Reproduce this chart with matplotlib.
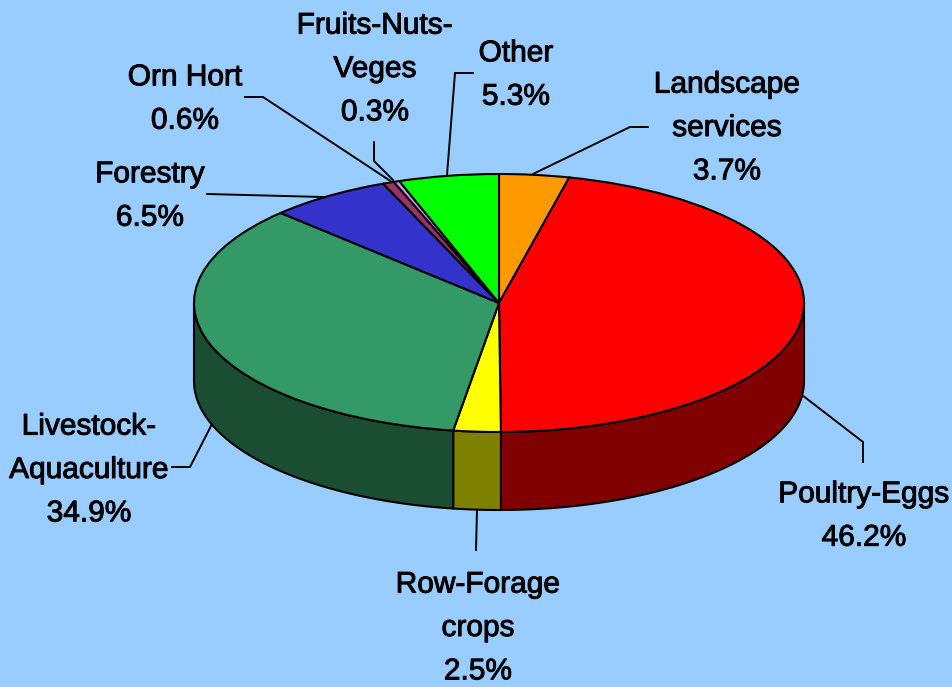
import numpy as np
import matplotlib
matplotlib.use('Agg')
import matplotlib.pyplot as plt
import matplotlib.patheffects as pe

names = ['Landscape\nservices', 'Poultry-Eggs', 'Row-Forage\ncrops', 'Livestock-\nAquaculture',
         'Forestry', 'Orn Hort', 'Fruits-Nuts-\nVeges', 'Other']
shares = [3.7, 46.2, 2.5, 34.9, 6.5, 0.6, 0.3, 5.3]
top_colors = ['#FF9900', '#FF0000', '#FFFF00', '#339966', '#3333CC', '#993366', '#CC99FF', '#00FF00']
side_colors = ['#804D00', '#800000', '#808000', '#1B4D33', '#1A1A66', '#4D1A33', '#664D80', '#008000']

label_pos = [(727, 128), (864, 516), (478, 628), (89, 470), (150, 196), (185, 99), (375, 69), (516, 75)]
leaders = [
    [(648, 127), (630, 127), (533, 174)],
    [(802, 395), (863, 442), (863, 462)],
    [(477, 510), (476, 550)],
    [(172, 467), (190, 467), (212, 424)],
    [(207, 194), (323, 197)],
    [(245, 97), (263, 97), (392, 182)],
    [(374, 142), (374, 161), (393, 180)],
    [(473, 73), (455, 73), (447, 175)],
]

W, H = 953, 687
cx, cy = 499, 303
rx, ry = 305, 129
depth = 78 / ry
bg = '#99CCFF'

fig = plt.figure(figsize=(W / 100, H / 100), dpi=100, facecolor=bg)
ax = fig.add_axes([0, 0, 1, 1])

# side walls first, only the front half of the cake shows
edges = np.cumsum([0] + shares) * 3.6
for i in range(len(shares)):
    a = max(edges[i], 90)
    b = min(edges[i + 1], 270)
    if b <= a:
        continue
    t = np.radians(np.linspace(a, b, 120))
    xs = np.sin(t)
    ys = np.cos(t)
    ax.fill(np.r_[xs, xs[::-1]], np.r_[ys, ys[::-1] - depth],
            facecolor=side_colors[i], edgecolor='black', linewidth=1.5, joinstyle='round')

ax.pie(shares, colors=top_colors, startangle=90, counterclock=False, radius=1,
       wedgeprops={'edgecolor': 'black', 'linewidth': 1.5})

# pie forces equal aspect, stretch it back to the flat ellipse
ax.set_aspect('auto')
ax.set_xlim(-cx / rx, (W - cx) / rx)
ax.set_ylim((cy - H) / ry, cy / ry)
ax.axis('off')

over = fig.add_axes([0, 0, 1, 1])
over.set_xlim(0, W)
over.set_ylim(H, 0)
over.axis('off')
over.patch.set_alpha(0)

for pts in leaders:
    over.plot([p[0] for p in pts], [p[1] for p in pts], color='black', lw=1.4, solid_joinstyle='miter')

for name, val, (x, y) in zip(names, shares, label_pos):
    over.text(x, y, f'{name}\n{val}%', ha='center', va='center', color='black',
              family=['Liberation Sans', 'DejaVu Sans'], fontsize=21.5, linespacing=1.7,
              path_effects=[pe.withStroke(linewidth=0.7, foreground='black')])

fig.savefig('out.png', dpi=100, facecolor=bg)
